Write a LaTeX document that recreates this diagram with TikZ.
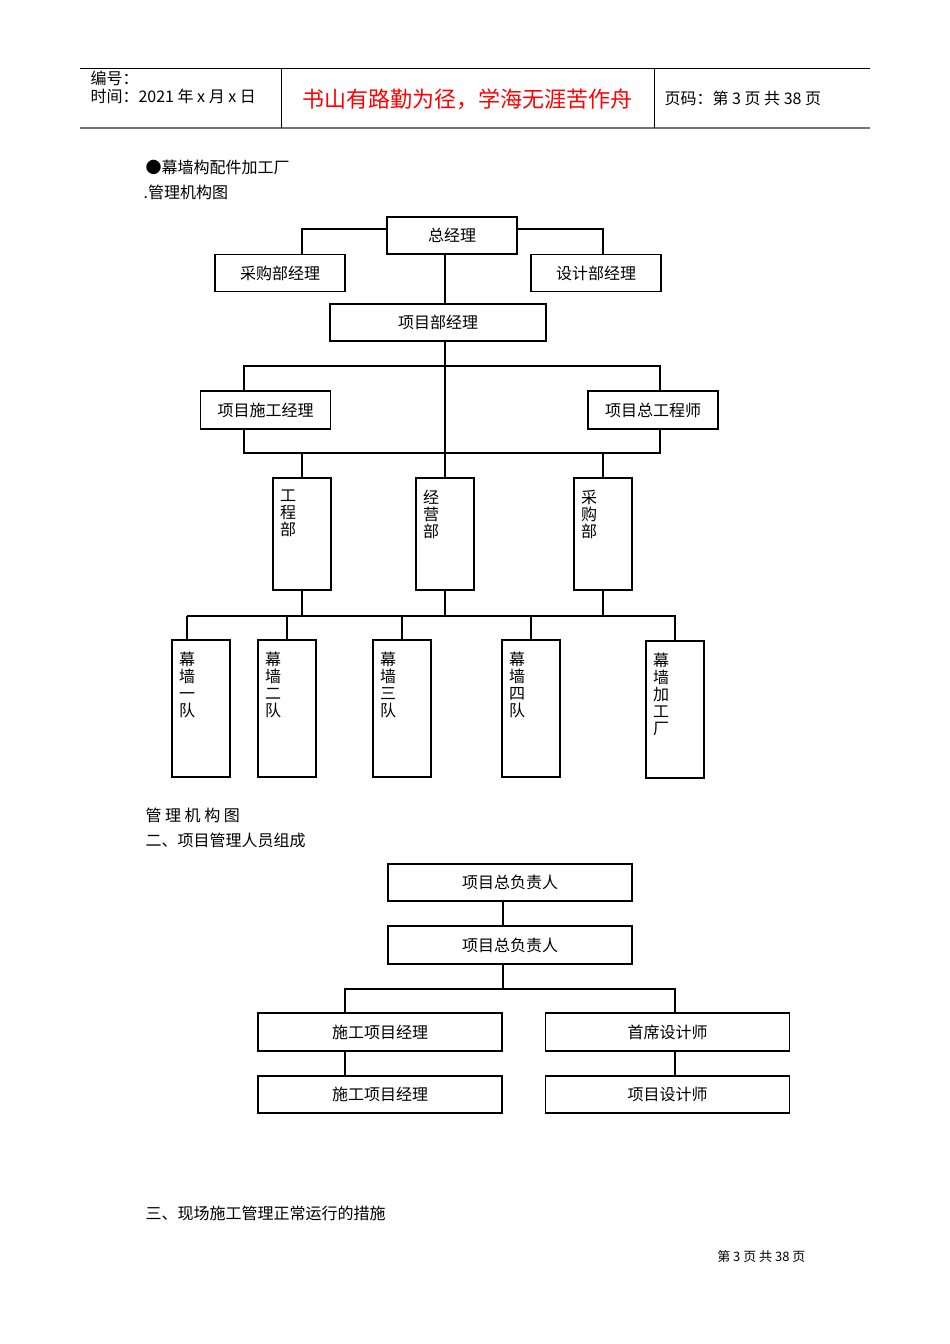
\documentclass[tikz,border=0pt]{standalone}
\usepackage{fontspec}
\setmainfont{Noto Sans CJK SC}
\usetikzlibrary{positioning}
% stacked characters for the tall boxes
\newcommand\colchars[2]{\parbox[c][#1][t]{44pt}{\vspace*{12pt}#2}}
\begin{document}
\begin{tikzpicture}[x=1pt,y=-1pt,line width=1.1pt,
  box/.style={draw,minimum width=130pt,minimum height=37pt,inner sep=0pt,font=\fontsize{16}{17}\selectfont},
  widebox/.style={box,minimum width=244pt},
  colbox/.style={draw,inner xsep=7pt,inner ysep=0pt,font=\fontsize{16}{17}\selectfont},
  txt/.style={anchor=west,inner sep=0pt,font=\fontsize{16}{17}\selectfont}]
  \useasboundingbox (0,0) rectangle (950,1344);
  \fill[white] (0,0) rectangle (950,1344);
  % page head
  \begin{scope}
   \draw[line width=0.8pt] (80,68) -- (870,68);
   \draw[black!55,line width=2pt] (80,128) -- (870,128);
   \draw[line width=0.8pt] (281,68) -- (281,128);
   \draw[line width=0.8pt] (654,68) -- (654,128);
   \node[txt] (num) at (90,78) {编号：};
   \node[txt] (date) at (90,96) {时间：2021 年 x 月 x 日};
   \node[red,font=\fontsize{22}{24}\selectfont] (motto) at (467,99) {书山有路勤为径，学海无涯苦作舟};
   \node[txt] (page) at (664,98) {页码：第 3 页 共 38 页};
  \end{scope}
  \node[txt] (title) at (145,167) {●幕墙构配件加工厂};
  \node[txt] (cap1) at (143,192) {.管理机构图};
  % first chart
  \begin{scope}
   \node[box] (gm) at (452,235.5) {总经理};
   \node[box] (cg) at (280,273) {采购部经理};
   \node[box] (sj) at (596,273) {设计部经理};
   \node[box,minimum width=216pt] (xm) at (438,322.5) {项目部经理};
   \node[box,minimum height=38pt] (sg) at (265.5,410) {项目施工经理};
   \node[box,minimum height=38pt] (zg) at (653,410) {项目总工程师};
   \node[colbox] (gcb) at (302,534) {\colchars{112pt}{工\\程\\部}};
   \node[colbox] (jyb) at (445,534) {\colchars{112pt}{经\\营\\部}};
   \node[colbox] (cgb) at (603,534) {\colchars{112pt}{采\\购\\部}};
   \node[colbox] (t1) at (201,708.5) {\colchars{137pt}{幕\\墙\\一\\队}};
   \node[colbox] (t2) at (287,708.5) {\colchars{137pt}{幕\\墙\\二\\队}};
   \node[colbox] (t3) at (402,708.5) {\colchars{137pt}{幕\\墙\\三\\队}};
   \node[colbox] (t4) at (531,708.5) {\colchars{137pt}{幕\\墙\\四\\队}};
   \node[colbox] (t5) at (675,709.5) {\colchars{137pt}{幕\\墙\\加\\工\\厂}};
   \coordinate (spine) at (445,0);
   \coordinate (busL) at (244,366);
   \coordinate (busR) at (660,366);
   \coordinate (lowL) at (244,453);
   \coordinate (lowR) at (660,453);
   \coordinate (teamL) at (187,616);
   \coordinate (teamR) at (676,616);
   \draw ([yshift=6.5pt]gm.west) -| ([xshift=22pt]cg.north);
   \draw ([yshift=6.5pt]gm.east) -| ([xshift=7pt]sj.north);
   \draw (gm.south -| spine) -- (xm.north -| spine);
   \draw (xm.south -| spine) -- (jyb.north -| spine);
   \draw (sg.north -| busL) -- (busL) -- (busR) -- (zg.north -| busR);
   \draw (sg.south -| lowL) -- (lowL) -- (lowR) -- (zg.south -| lowR);
   \draw (lowL -| gcb.north) -- (gcb.north);
   \draw (lowR -| cgb.north) -- (cgb.north);
   \foreach \dept in {gcb,jyb,cgb}
    \draw (\dept.south) -- (\dept.south |- teamL);
   \draw (teamL) -- (teamR);
   \draw (teamL) -- (t1.north -| teamL);
   \foreach \team in {t2,t3,t4,t5}
    \draw (\team.north |- teamL) -- (\team.north);
  \end{scope}
  \node[txt] (cap2) at (145,815) {管 理 机 构 图};
  \node[txt] (sec2) at (145,840) {二、项目管理人员组成};
  % second chart
  \begin{scope}
   \node[widebox] (fz1) at (510,882.5) {项目总负责人};
   \node[widebox,minimum height=38pt] (fz2) at (510,945) {项目总负责人};
   \node[widebox,minimum height=38pt] (sgj1) at (380,1032) {施工项目经理};
   \node[widebox,minimum height=38pt] (sx) at (667.5,1032) {首席设计师};
   \node[widebox] (sgj2) at (380,1094.5) {施工项目经理};
   \node[widebox] (xs) at (667.5,1094.5) {项目设计师};
   \coordinate (mid2) at (503,989);
   \coordinate (b2L) at (345,989);
   \coordinate (b2R) at (675,989);
   \draw (fz1.south -| mid2) -- (fz2.north -| mid2);
   \draw (fz2.south -| mid2) -- (mid2);
   \draw (sgj1.north -| b2L) -- (b2L) -- (b2R) -- (sx.north -| b2R);
   \draw (sgj1.south -| b2L) -- (sgj2.north -| b2L);
   \draw (sx.south -| b2R) -- (xs.north -| b2R);
  \end{scope}
  \node[txt] (sec3) at (145,1213) {三、现场施工管理正常运行的措施};
  \node[anchor=east,inner sep=0pt,font=\fontsize{13}{14}\selectfont] (foot) at (806,1257) {第 3 页 共 38 页};
\end{tikzpicture}
\end{document}
